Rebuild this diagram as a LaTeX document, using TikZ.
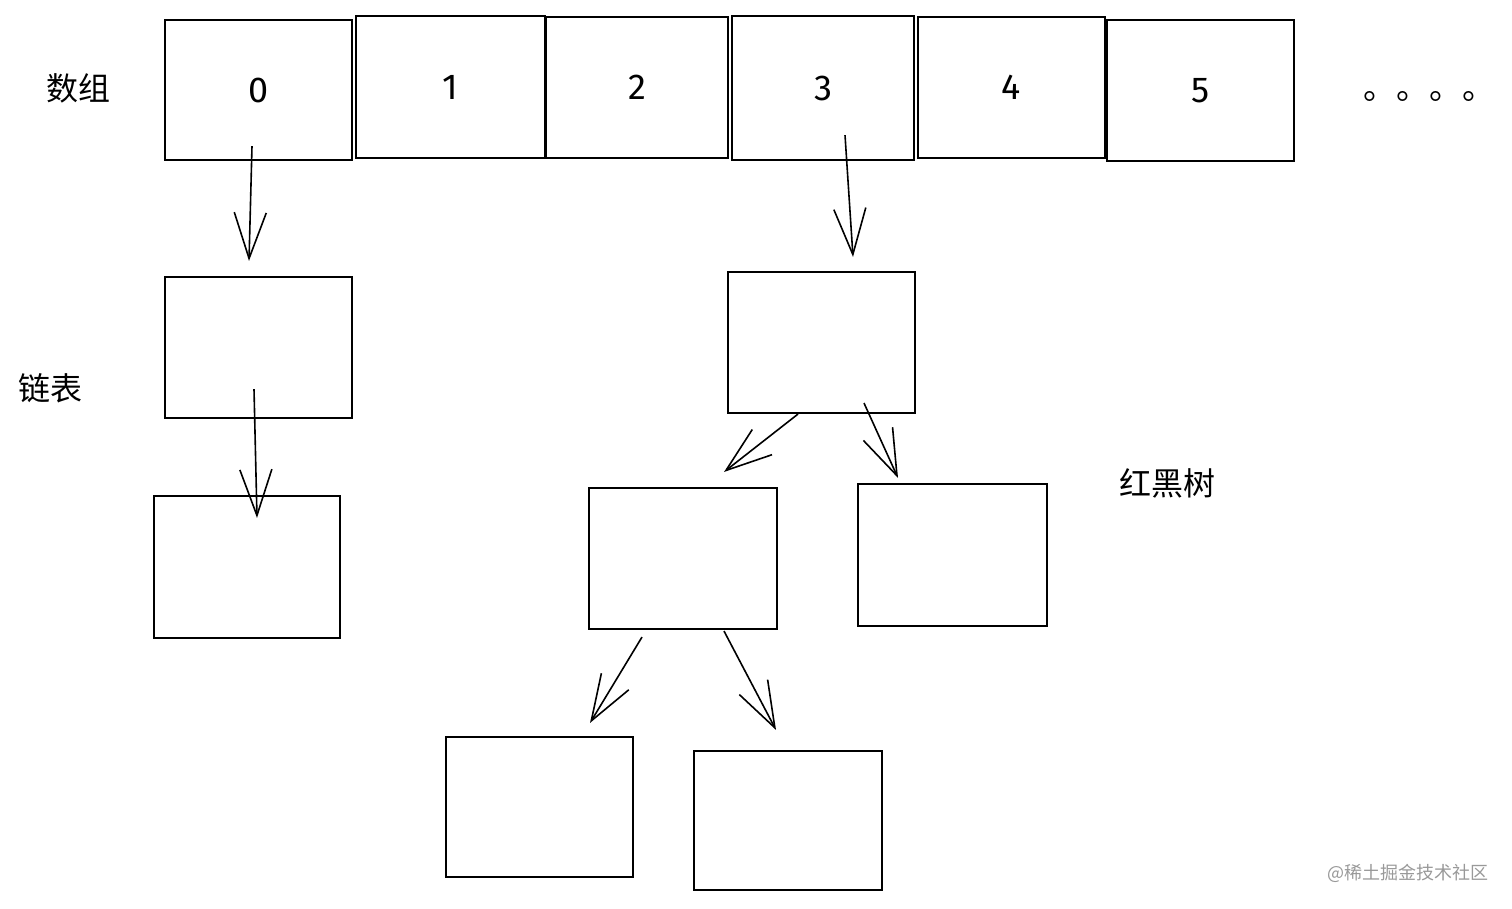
\documentclass[tikz,border=0pt]{standalone}
\usepackage{fontspec}
\setmainfont{Fira Sans}
\newfontfamily\cjk{Noto Sans CJK SC}
\usetikzlibrary{arrows.meta,calc}
\begin{document}
\begin{tikzpicture}[x=1pt,y=-1pt,
  box/.style={draw,line width=2.1pt,inner sep=0pt,minimum width=187pt,minimum height=141pt,
    font=\fontsize{36}{40}\selectfont},
  lbl/.style={font=\cjk\fontsize{32}{36}\selectfont,inner sep=0pt},
  arr/.style={line width=1.6pt,-{Straight Barb[length=46pt,width=32pt,line width=1.6pt]}}]
\useasboundingbox (0,0) rectangle (1512,908);
% array
\node[box,minimum width=187pt,minimum height=140pt] (a0) at (258.5,90) {0};
\node[box,minimum width=189pt,minimum height=142pt] (a1) at (450.5,87) {1};
\node[box,minimum width=182pt,minimum height=141pt] (a2) at (637,87.5) {2};
\node[box,minimum width=182pt,minimum height=144pt] (a3) at (823,88) {3};
\node[box,minimum width=187pt,minimum height=141pt] (a4) at (1011.5,87.5) {4};
\node[box,minimum width=187pt,minimum height=141pt] (a5) at (1200.5,90.5) {5};
\node[font=\cjk\fontsize{33}{36}\selectfont,inner sep=0pt,anchor=base west] (dots) at (1363,99) {。。。。};
% linked list
\node[box] (l1) at (258.5,347.5) {};
\node[box,minimum width=186pt,minimum height=142pt] (l2) at (247,567) {};
% tree
\node[box] (t0) at (821.5,342.5) {};
\node[box,minimum width=188pt] (t1) at (683,558.5) {};
\node[box,minimum width=189pt,minimum height=142pt] (t2) at (952.5,555) {};
\node[box,minimum height=140pt] (t3) at (539.5,807) {};
\node[box,minimum width=188pt,minimum height=139pt] (t4) at (788,820.5) {};
% labels
\node[lbl] (lab1) at (78,88) {数组};
\node[lbl] (lab2) at (50,388) {链表};
\node[lbl] (lab3) at (1167,483) {红黑树};
\node[font=\cjk\fontsize{18}{20}\selectfont,text=black!40,inner sep=0pt] (wm) at (1408,873) {@稀土掘金技术社区};
% arrows
\draw[arr] ([xshift=-6.5pt,yshift=15pt]a0.south) -- ([xshift=-9.5pt,yshift=15pt]l1.north);
\draw[arr] ([xshift=-4.5pt,yshift=30pt]l1.south) -- ([xshift=10pt,yshift=-23pt]l2.north);
\draw[arr] ([xshift=22pt,yshift=26pt]a3.south) -- ([xshift=31.5pt,yshift=14pt]t0.north);
\draw[arr] ([xshift=-23.5pt]t0.south) -- ([xshift=41pt,yshift=15pt]t1.north);
\draw[arr] ([xshift=42.5pt,yshift=11pt]t0.south) -- ([xshift=-54.5pt,yshift=5pt]t2.north);
\draw[arr] ([xshift=-41pt,yshift=-7pt]t1.south) -- ([xshift=50.5pt,yshift=13pt]t3.north);
\draw[arr] ([xshift=41pt,yshift=-1pt]t1.south) -- ([xshift=-12pt,yshift=20pt]t4.north);
\end{tikzpicture}
\end{document}
